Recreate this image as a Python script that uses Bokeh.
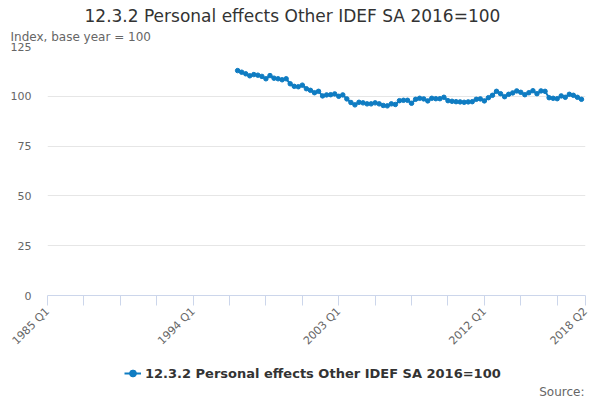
import math

from bokeh.embed import file_html
from bokeh.layouts import column
from bokeh.models import FixedTicker, Label, Legend, LegendItem, Range1d, Title
from bokeh.plotting import figure
from bokeh.resources import INLINE

title_text = "12.3.2 Personal effects Other IDEF SA 2016=100"
y_title = "Index, base year = 100"
source_text = "Source:"

# quarterly categories on the axis, 1985 Q1 .. 2018 Q2
quarters = [f"{y} Q{q}" for y in range(1985, 2019) for q in range(1, 5)][:134]
labelled_quarters = ["1985 Q1", "1994 Q1", "2003 Q1", "2012 Q1", "2018 Q2"]
y_ticks = [0, 25, 50, 75, 100, 125]

series_start = "1996 Q4"
values = [
    112.9, 112.1, 111.3, 110.3, 110.9, 110.6, 110.0, 108.8, 110.4, 109.1,
    108.8, 108.3, 108.8, 106.3, 105.0, 104.8, 105.6, 103.8, 103.0, 101.8,
    102.5, 100.2, 100.7, 100.8, 101.2, 100.0, 100.7, 98.7, 96.9, 95.7,
    97.0, 96.7, 96.2, 96.2, 96.7, 96.2, 95.4, 95.2, 96.2, 95.9,
    97.8, 98.0, 98.0, 96.5, 98.5, 99.0, 98.7, 97.7, 99.0, 98.8,
    98.8, 99.5, 97.8, 97.5, 97.3, 97.2, 97.0, 97.2, 97.3, 98.5,
    98.7, 97.7, 99.3, 100.5, 102.5, 101.3, 99.8, 101.0, 101.7, 102.7,
    102.0, 100.8, 101.8, 102.8, 101.3, 102.7, 102.5, 99.3, 99.0, 98.8,
    100.2, 99.5, 101.0, 100.5, 99.5, 98.5,
]

start = quarters.index(series_start)
xs = [start + i for i in range(len(values))]

FONT = "DejaVu Sans"
BLUE = "#0f7cc2"

p = figure(
    width=600,
    height=355,
    x_range=Range1d(0, len(quarters) - 1),
    y_range=Range1d(0, 125),
    output_backend="svg",
    toolbar_location=None,
    min_border_left=47,
    min_border_right=15,
    min_border_top=46,
    min_border_bottom=58,
)
p.outline_line_color = None

p.line(xs, values, line_color=BLUE, line_width=2)
p.scatter(xs, values, size=4.5, fill_color=BLUE, line_color=BLUE)

# x axis: a tick every 9 quarters plus the last one
ticks = list(range(0, len(quarters) - 1, 9)) + [len(quarters) - 1]
p.xaxis.ticker = FixedTicker(ticks=ticks)
p.xaxis.major_label_overrides = {
    t: (quarters[t] if quarters[t] in labelled_quarters else "") for t in ticks
}
p.xaxis.major_label_orientation = math.pi / 4
p.xaxis.axis_line_color = "#ccd6eb"
p.xaxis.major_tick_line_color = "#ccd6eb"
p.xaxis.major_tick_out = 10
p.xaxis.major_tick_in = 0
p.xaxis.minor_tick_line_color = None
p.xaxis.major_label_standoff = 4
p.xaxis.major_label_text_font = FONT
p.xaxis.major_label_text_font_size = "11px"
p.xaxis.major_label_text_color = "#666666"
p.xgrid.grid_line_color = None

p.yaxis.ticker = FixedTicker(ticks=y_ticks)
p.yaxis.axis_line_color = None
p.yaxis.major_tick_line_color = None
p.yaxis.minor_tick_line_color = None
p.yaxis.major_tick_out = 0
p.yaxis.major_label_standoff = 16
p.yaxis.major_label_text_font = FONT
p.yaxis.major_label_text_font_size = "11px"
p.yaxis.major_label_text_color = "#666666"
p.ygrid.grid_line_color = "#e6e6e6"
p.ygrid.ticker = FixedTicker(ticks=y_ticks)

# titles above the frame (first added sits nearest the frame)
p.add_layout(Title(text=y_title, align="left", offset=-37, text_font=FONT,
                   text_font_size="12px", text_font_style="normal",
                   text_color="#666666", standoff=5), "above")
p.add_layout(Title(text=title_text, align="left", offset=37, text_font=FONT,
                   text_font_size="17px", text_font_style="normal",
                   text_color="#333333", standoff=0), "above")

# footer strip with the legend and the source note; its frame lines up with p's
foot = figure(
    width=600,
    height=45,
    x_range=Range1d(47, 585),
    y_range=Range1d(0, 45),
    x_axis_type=None,
    y_axis_type=None,
    output_backend="svg",
    toolbar_location=None,
    min_border=0,
    min_border_left=0,
    min_border_right=0,
    min_border_top=0,
    min_border_bottom=0,
)
foot.outline_line_color = None
foot.xgrid.visible = False
foot.ygrid.visible = False
key_line = foot.line(xs, values, line_color=BLUE, line_width=2, visible=False)
key_dot = foot.scatter(xs, values, size=5, fill_color=BLUE, line_color=BLUE, visible=False)

legend = Legend(
    items=[LegendItem(label=title_text, renderers=[key_line, key_dot])],
    location=(77, 17),
    padding=0,
    margin=0,
    border_line_color=None,
    background_fill_alpha=0,
    glyph_width=17,
    glyph_height=20,
    label_standoff=4,
    label_text_font=FONT,
    label_text_font_size="13px",
    label_text_font_style="bold",
    label_text_color="#333333",
)
foot.add_layout(legend)
foot.add_layout(Label(x=584, y=9, text=source_text, text_align="right",
                      text_baseline="middle", text_font=FONT, text_font_size="12px",
                      text_color="#666666"))

page = column(p, foot, spacing=0)
open("out.html", "w").write(file_html(page, INLINE))
